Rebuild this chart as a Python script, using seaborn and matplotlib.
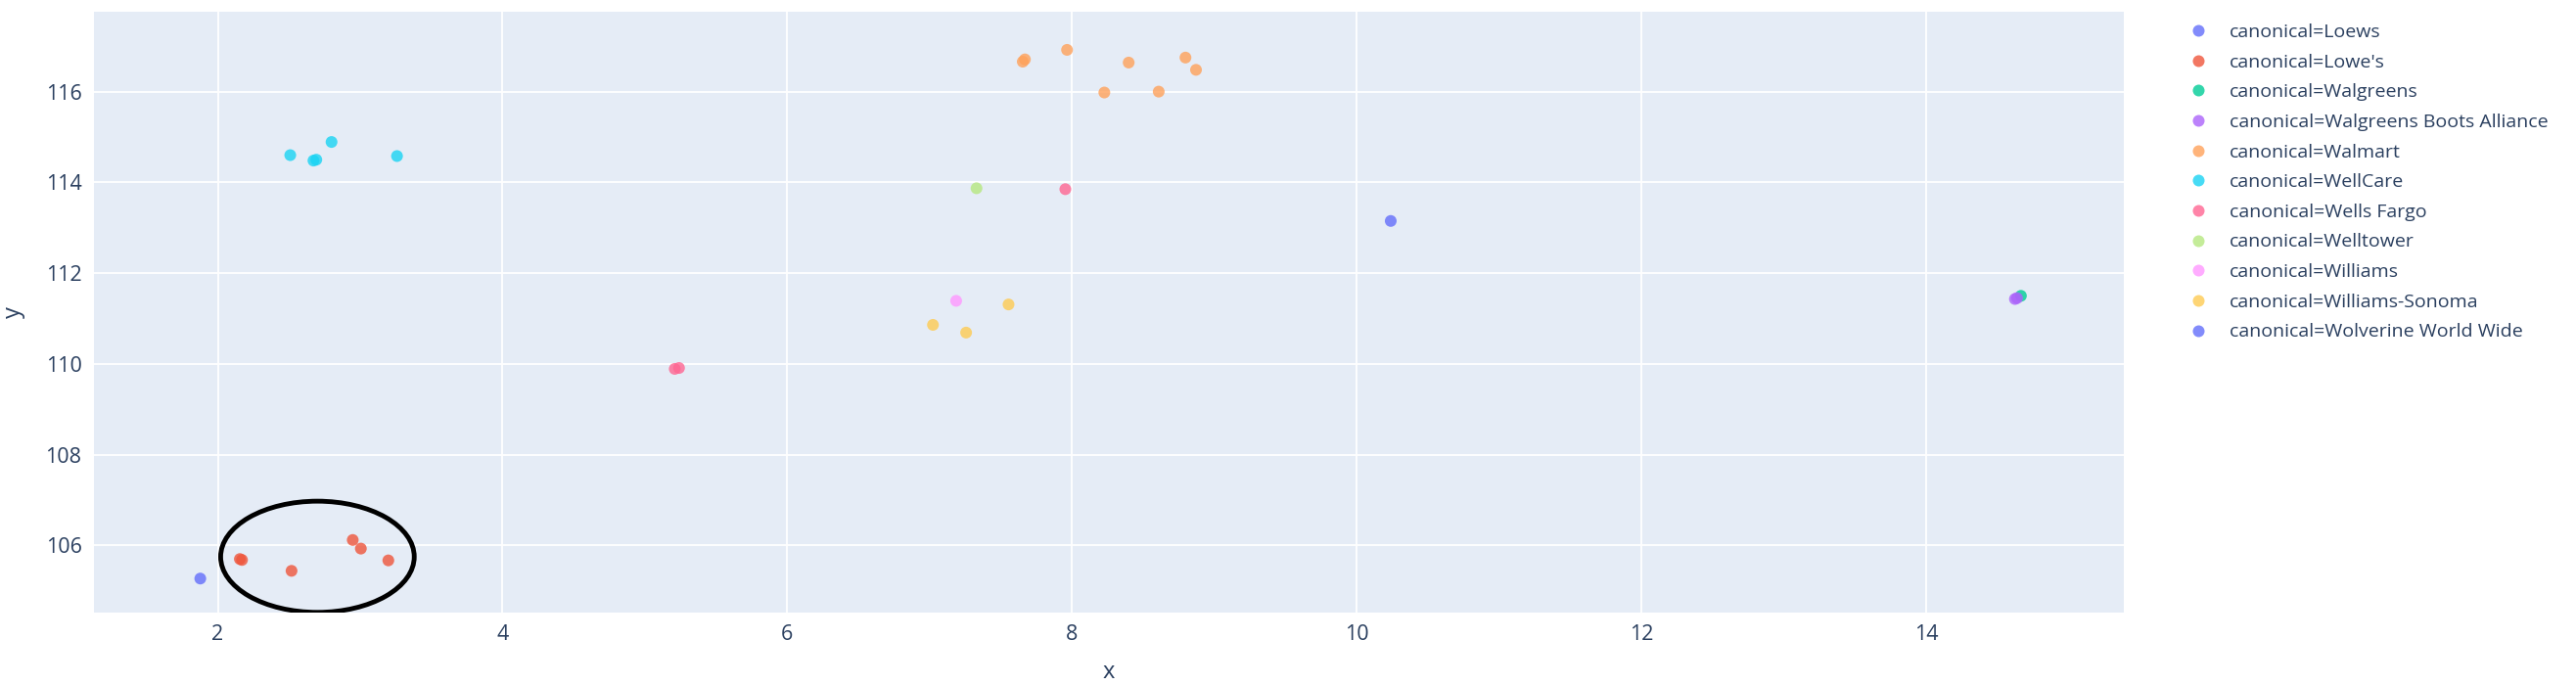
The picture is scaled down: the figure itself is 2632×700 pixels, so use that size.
import matplotlib
matplotlib.use("Agg")
import matplotlib.pyplot as plt
from matplotlib.patches import Ellipse
import pandas as pd
import seaborn as sns

# legend order / categories
canonical_names = ["Loews", "Lowe's", "Walgreens", "Walgreens Boots Alliance", "Walmart",
                   "WellCare", "Wells Fargo", "Welltower", "Williams", "Williams-Sonoma",
                   "Wolverine World Wide"]
plotly_colors = ["#636efa", "#EF553B", "#00cc96", "#ab63fa", "#FFA15A",
                 "#19d3f3", "#FF6692", "#B6E880", "#FF97FF", "#FECB52", "#636efa"]

# points
point_canonical = ["Loews",
                   "Lowe's", "Lowe's", "Lowe's", "Lowe's", "Lowe's", "Lowe's",
                   "Walgreens",
                   "Walgreens Boots Alliance", "Walgreens Boots Alliance",
                   "Walmart", "Walmart", "Walmart", "Walmart", "Walmart", "Walmart", "Walmart", "Walmart",
                   "WellCare", "WellCare", "WellCare", "WellCare", "WellCare",
                   "Wells Fargo", "Wells Fargo", "Wells Fargo",
                   "Welltower",
                   "Williams",
                   "Williams-Sonoma", "Williams-Sonoma", "Williams-Sonoma",
                   "Wolverine World Wide"]
point_x = [1.877,
           2.155, 2.17, 2.518, 2.948, 3.005, 3.198,
           14.667,
           14.625, 14.64,
           7.655, 7.67, 7.966, 8.399, 8.798, 8.872, 8.228, 8.61,
           2.509, 2.672, 2.692, 2.799, 3.259,
           5.21, 5.24, 7.954,
           7.33,
           7.187,
           7.024, 7.257, 7.555,
           10.24]
point_y = [105.27,
           105.70, 105.68, 105.44, 106.12, 105.93, 105.67,
           111.50,
           111.43, 111.45,
           116.66, 116.71, 116.92, 116.64, 116.75, 116.48, 115.98, 116.00,
           114.60, 114.48, 114.50, 114.89, 114.58,
           109.89, 109.91, 113.85,
           113.87,
           111.39,
           110.86, 110.69, 111.31,
           113.15]

df = pd.DataFrame({"canonical": point_canonical, "x": point_x, "y": point_y})
df["label"] = "canonical=" + df["canonical"]
hue_order = ["canonical=" + n for n in canonical_names]
palette = dict(zip(hue_order, plotly_colors))

text_color = "#2a3f5f"
sns.set_style("darkgrid", {"axes.facecolor": "#E5ECF6", "grid.color": "white"})
plt.rcParams["font.family"] = ["Open Sans", "DejaVu Sans"]

fig = plt.figure(figsize=(26.32, 7), dpi=100)
ax = fig.add_axes([96 / 2632, 1 - 626 / 700, (2170 - 96) / 2632, (626 - 12) / 700])

sns.scatterplot(data=df, x="x", y="y", hue="label", hue_order=hue_order, palette=palette,
                s=75, alpha=0.8, linewidth=0, ax=ax, legend=True)

# highlight ring round the Lowe's cluster
ax.add_patch(Ellipse((2.70, 105.75), 1.36, 2.45, fill=False, edgecolor="black", linewidth=3.5, zorder=5))

ax.set_xlim(1.13, 15.39)
ax.set_ylim(104.52, 117.76)
ax.set_xticks([2, 4, 6, 8, 10, 12, 14])
ax.set_yticks([106, 108, 110, 112, 114, 116])
ax.grid(True, color="white", linewidth=1.3)
for s in ax.spines.values():
    s.set_visible(False)
ax.tick_params(axis="both", length=0, labelsize=15.5, labelcolor=text_color, pad=9)
ax.set_xlabel("x", fontsize=17, color=text_color, labelpad=11)
ax.set_ylabel("y", fontsize=17, color=text_color, labelpad=15)

handles, labels = ax.get_legend_handles_labels()
ax.legend(handles, labels, loc="upper left", bbox_to_anchor=(2236 / 2632, 1 - 24 / 700),
          bbox_transform=fig.transFigure, frameon=False, fontsize=14, labelcolor=text_color,
          handlelength=1, handletextpad=1.15, labelspacing=0.65, borderaxespad=0, borderpad=0,
          markerscale=1.0)

fig.savefig("out.png", dpi=100)
